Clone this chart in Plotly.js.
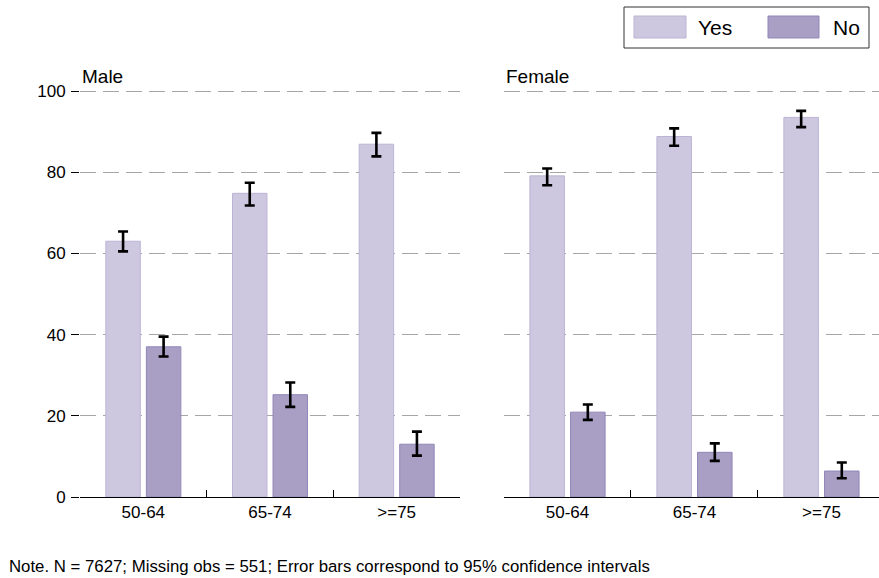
<!DOCTYPE html>
<html>
<head>
<meta charset="utf-8">
<script src="https://cdn.plot.ly/plotly-3.0.1.min.js"></script>
<style>html,body{margin:0;padding:0;background:#fff;}#chart{width:879px;height:578px;}</style>
</head>
<body>
<div id="chart"></div>
<script>
const categories = ["50-64", "65-74", ">=75"];
const maleYes = [63.0, 74.8, 86.9];
const maleYesHi = [2.4, 2.6, 2.8];
const maleYesLo = [2.5, 3.0, 3.0];
const maleNo = [37.0, 25.2, 13.0];
const maleNoHi = [2.5, 3.0, 3.1];
const maleNoLo = [2.4, 3.0, 2.8];
const femaleYes = [79.1, 88.8, 93.5];
const femaleYesHi = [1.8, 2.0, 1.6];
const femaleYesLo = [2.3, 2.3, 2.4];
const femaleNo = [20.9, 11.0, 6.4];
const femaleNoHi = [1.9, 2.2, 2.1];
const femaleNoLo = [1.9, 2.1, 1.8];
const seriesNames = ["Yes", "No"];
const panelTitles = ["Male", "Female"];
const note = "Note. N = 7627; Missing obs = 551; Error bars correspond to 95% confidence intervals";

const yesColor = "#cdc8df", yesLine = "#bbb4d4";
const noColor = "#a99fc5", noLine = "#9186b8";

function bar(y, hi, lo, name, fill, line, xa, ya) {
  return {
    type: "bar", x: categories, y: y, name: name, xaxis: xa, yaxis: ya,
    marker: {color: fill, line: {color: line, width: 1}},
    error_y: {type: "data", array: hi, arrayminus: lo, symmetric: false, color: "#000", thickness: 2.6, width: 5},
    showlegend: false, hoverinfo: "skip"
  };
}

const data = [
  bar(maleYes, maleYesHi, maleYesLo, seriesNames[0], yesColor, yesLine, "x", "y"),
  bar(maleNo, maleNoHi, maleNoLo, seriesNames[1], noColor, noLine, "x", "y"),
  bar(femaleYes, femaleYesHi, femaleYesLo, seriesNames[0], yesColor, yesLine, "x2", "y2"),
  bar(femaleNo, femaleNoHi, femaleNoLo, seriesNames[1], noColor, noLine, "x2", "y2")
];

const font = "Liberation Sans, Arial, sans-serif";
const W = 879;
const T = 90, PH = 407; // plot top and height in px
function py(px) { return 1 + (T - px) / PH; }
const xCommon = {
  type: "category", showgrid: false, zeroline: false,
  showline: true, linecolor: "#000", linewidth: 1,
  ticks: "inside", ticklen: 7, tickcolor: "#000", tickwidth: 1,
  tickson: "boundaries", tickfont: {size: 17, color: "#000", family: font}
};
const yCommon = {
  range: [0, 100.25], tickvals: [0, 20, 40, 60, 80, 100], showgrid: true,
  gridcolor: "#a6a6a6", gridwidth: 1, griddash: "16px,7px",
  zeroline: false, showline: false
};

const layout = {
  width: 879, height: 578,
  margin: {l: 0, r: 0, t: T, b: 578 - T - PH},
  paper_bgcolor: "#fff", plot_bgcolor: "#fff",
  font: {family: font, color: "#000"},
  barmode: "group", bargap: 0.36, bargroupgap: 0.15,
  xaxis: Object.assign({}, xCommon, {domain: [80 / W, 460 / W], range: [-0.5, 2.5], anchor: "y"}),
  xaxis2: Object.assign({}, xCommon, {domain: [504 / W, 1], range: [-0.5, 2.453], anchor: "y2"}),
  yaxis: Object.assign({}, yCommon, {anchor: "x", ticks: "outside", ticklen: 8, tickcolor: "#000", tickwidth: 1,
    ticklabelstandoff: 2, tickfont: {size: 17, color: "#000", family: font}}),
  yaxis2: Object.assign({}, yCommon, {anchor: "x2", showticklabels: false, ticks: ""}),
  shapes: [
    {type: "rect", xref: "paper", yref: "paper", x0: 624 / W, x1: 869 / W, y0: py(7), y1: py(48),
      line: {color: "#333", width: 1}, fillcolor: "#fff"},
    {type: "rect", xref: "paper", yref: "paper", x0: 634 / W, x1: 686 / W, y0: py(16), y1: py(38),
      line: {color: yesLine, width: 1}, fillcolor: yesColor},
    {type: "rect", xref: "paper", yref: "paper", x0: 768 / W, x1: 819 / W, y0: py(16), y1: py(38),
      line: {color: noLine, width: 1}, fillcolor: noColor}
  ],
  annotations: [
    {text: seriesNames[0], xref: "paper", yref: "paper", x: 696 / W, y: py(28), xanchor: "left", yanchor: "middle",
      showarrow: false, font: {size: 21, color: "#000", family: font}},
    {text: seriesNames[1], xref: "paper", yref: "paper", x: 831 / W, y: py(28), xanchor: "left", yanchor: "middle",
      showarrow: false, font: {size: 21, color: "#000", family: font}},
    {text: panelTitles[0], xref: "paper", yref: "paper", x: 80 / W, y: py(76), xanchor: "left", yanchor: "middle",
      showarrow: false, font: {size: 19, color: "#000", family: font}},
    {text: panelTitles[1], xref: "paper", yref: "paper", x: 504 / W, y: py(76), xanchor: "left", yanchor: "middle",
      showarrow: false, font: {size: 19, color: "#000", family: font}},
    {text: note, xref: "paper", yref: "paper", x: 7 / W, y: py(566), xanchor: "left", yanchor: "middle",
      showarrow: false, font: {size: 16.8, color: "#000", family: font}}
  ]
};

Plotly.newPlot("chart", data, layout, {displayModeBar: false, staticPlot: true});
</script>
</body>
</html>
